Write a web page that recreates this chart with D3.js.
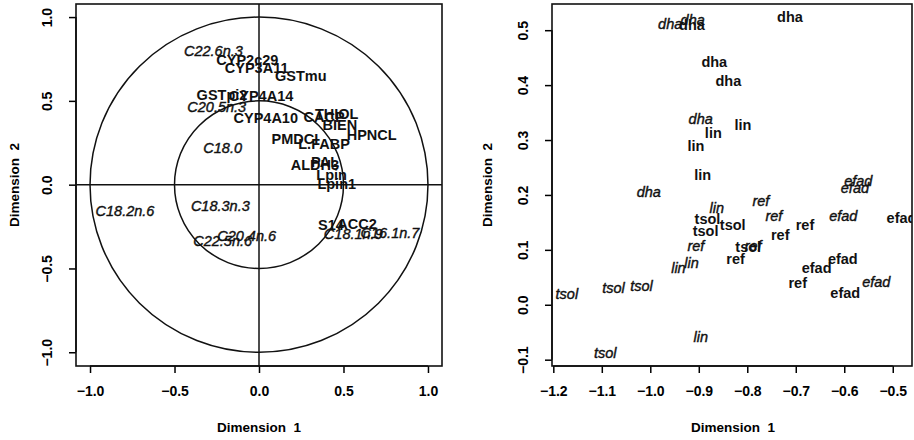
<html lang="en">
  <head>
    <meta charset="utf-8">
    <script src="https://d3js.org/d3.v7.min.js"></script>
    <style type="text/css">
body {
  margin: 0;
  background: white;
  font-family: "Liberation Sans", Arial, Helvetica, sans-serif;
}
    </style>
  </head>
  <body>
    <div id="chart"></div>
    <script type="text/javascript">
// variables plot (correlation circle)
const varNames = ["C22.6n.3", "CYP2c29", "CYP3A11", "GSTmu", "GSTpi2", "CYP4A14",
  "C20.5n.3", "CYP4A10", "CACP", "THIOL", "BIEN", "HPNCL", "PMDCI", "L.FABP",
  "ALDH3", "PAL", "Lpin", "Lpin1", "C18.0", "C18.2n.6", "C18.3n.3", "C20.4n.6",
  "C22.5n.6", "S14", "ACC2", "C18.1n.9", "C16.1n.7"];
const varX = [-0.27, -0.069, -0.014, 0.247, -0.219, 0.012, -0.25, 0.04, 0.385, 0.46,
  0.479, 0.667, 0.213, 0.385, 0.331, 0.391, 0.43, 0.46, -0.215, -0.793, -0.229,
  -0.073, -0.215, 0.426, 0.58, 0.558, 0.775];
const varY = [0.796, 0.746, 0.696, 0.647, 0.533, 0.527, 0.463, 0.4, 0.404, 0.424,
  0.354, 0.294, 0.275, 0.241, 0.115, 0.135, 0.056, 0.006, 0.221, -0.158, -0.128,
  -0.303, -0.337, -0.243, -0.237, -0.293, -0.287];
const varItalic = [1, 0, 0, 0, 0, 0, 1, 0, 0, 0, 0, 0, 0, 0, 0, 0, 0, 0, 1, 1, 1, 1,
  1, 0, 0, 1, 1];
const leftTicks = [-1, -0.5, 0, 0.5, 1];

// individuals plot
const indNames = ["dha", "dha", "dha", "dha", "dha", "dha", "lin", "lin", "lin", "lin",
  "dha", "lin", "tsol", "tsol", "tsol", "ref", "lin", "lin", "ref", "ref", "ref", "ref",
  "ref", "tsol", "ref", "ref", "tsol", "tsol", "tsol", "tsol", "lin", "efad", "efad",
  "efad", "efad", "efad", "efad", "efad", "efad", "dha"];
const indX = [-0.959, -0.9125, -0.712, -0.868, -0.839, -0.896, -0.87, -0.809, -0.906,
  -0.892, -1.003, -0.863, -0.882, -0.83, -0.886, -0.906, -0.915, -0.942, -0.772,
  -0.745, -0.681, -0.732, -0.788, -0.798, -0.824, -0.696, -1.172, -1.076, -1.018,
  -1.093, -0.896, -0.571, -0.578, -0.602, -0.534, -0.482, -0.603, -0.657, -0.598,
  -0.914];
const indY = [0.511, 0.518, 0.524, 0.443, 0.407, 0.339, 0.313, 0.327, 0.289, 0.237,
  0.206, 0.176, 0.156, 0.145, 0.134, 0.107, 0.076, 0.068, 0.189, 0.162, 0.146, 0.128,
  0.107, 0.1045, 0.083, 0.04, 0.019, 0.031, 0.034, -0.087, -0.059, 0.226, 0.213,
  0.162, 0.042, 0.158, 0.083, 0.068, 0.021, 0.509];
const indItalic = [1, 1, 0, 0, 0, 1, 0, 0, 0, 0, 1, 1, 0, 0, 0, 1, 1, 1, 1, 1, 0, 0, 1,
  0, 0, 0, 1, 1, 1, 1, 1, 1, 1, 1, 1, 0, 0, 0, 0, 0];
const rightXTicks = [-1.2, -1.1, -1.0, -0.9, -0.8, -0.7, -0.6, -0.5];
const rightYTicks = [-0.1, 0.0, 0.1, 0.2, 0.3, 0.4, 0.5];

const width = 914, height = 440;
const fmt = d3.format(".1f");

let svg = d3.select("#chart").append("svg")
  .attr("width", width)
  .attr("height", height);

function makePanel(id, box, xDomain, yDomain, xTicks, yTicks, titleX, titleY) {
  let x = d3.scaleLinear().domain(xDomain).range([box.left, box.right]);
  let y = d3.scaleLinear().domain(yDomain).range([box.bottom, box.top]);

  let g = svg.append("g");

  g.append("clipPath").attr("id", id)
    .append("rect")
      .attr("x", box.left).attr("y", box.top)
      .attr("width", box.right - box.left)
      .attr("height", box.bottom - box.top);

  // x axis
  g.append("g")
    .attr("transform", `translate(0,${box.bottom})`)
    .call(d3.axisBottom(x).tickValues(xTicks).tickSize(7).tickPadding(13)
      .tickFormat(fmt))
    .call(a => a.select(".domain")
      .attr("d", `M${x(xTicks[0])},0H${x(xTicks[xTicks.length - 1])}`))
    .call(a => a.selectAll("line,path").attr("stroke-width", 1.5))
    .call(a => a.selectAll("text")
      .attr("font-size", 14).attr("font-weight", "bold")
      .attr("font-family", "Liberation Sans, Arial, sans-serif"));

  // y axis, labels parallel to the axis
  g.append("g")
    .attr("transform", `translate(${box.left},0)`)
    .call(d3.axisLeft(y).tickValues(yTicks).tickSize(7).tickFormat(fmt))
    .call(a => a.select(".domain")
      .attr("d", `M0,${y(yTicks[0])}V${y(yTicks[yTicks.length - 1])}`))
    .call(a => a.selectAll("line,path").attr("stroke-width", 1.5))
    .call(a => a.selectAll("text")
      .attr("font-size", 14).attr("font-weight", "bold")
      .attr("font-family", "Liberation Sans, Arial, sans-serif")
      .attr("x", null).attr("dy", null)
      .attr("text-anchor", "middle")
      .attr("transform", "translate(-24,0) rotate(-90)"));

  g.append("rect")
    .attr("x", box.left).attr("y", box.top)
    .attr("width", box.right - box.left)
    .attr("height", box.bottom - box.top)
    .attr("fill", "none")
    .attr("stroke", "#111")
    .attr("stroke-width", 1.6);

  g.append("text")
    .attr("x", titleX).attr("y", 432)
    .attr("text-anchor", "middle")
    .attr("font-size", 13.5).attr("font-weight", "bold")
    .attr("xml:space", "preserve")
    .text("Dimension  1");

  g.append("text")
    .attr("transform", `translate(${titleY},${(box.top + box.bottom) / 2}) rotate(-90)`)
    .attr("text-anchor", "middle")
    .attr("font-size", 13.5).attr("font-weight", "bold")
    .attr("xml:space", "preserve")
    .text("Dimension  2");

  return {x, y, g};
}

function addLabels(p, id, names, xs, ys, italic, size) {
  p.g.append("g")
    .attr("clip-path", `url(#${id})`)
    .selectAll("text")
    .data(names.map((n, i) => ({n, x: xs[i], y: ys[i], it: italic[i]})))
    .join("text")
      .attr("x", d => p.x(d.x))
      .attr("y", d => p.y(d.y))
      .attr("dy", "0.35em")
      .attr("text-anchor", "middle")
      .attr("font-size", size)
      .attr("font-weight", d => d.it ? "normal" : "bold")
      .attr("font-style", d => d.it ? "italic" : "normal")
      .attr("fill", "#111")
      // the scanned italics look a little heavier than plain regular
      .attr("stroke", d => d.it ? "#111" : "none")
      .attr("stroke-width", 0.4)
      .text(d => d.n);
}

// left panel
let left = makePanel("clipL", {left: 76, right: 442, top: 4, bottom: 366},
  [-1.083, 1.083], [-1.082, 1.078], leftTicks, leftTicks, 259, 19);

[1, 0.5].forEach(r => {
  left.g.append("ellipse")
    .attr("cx", left.x(0)).attr("cy", left.y(0))
    .attr("rx", left.x(r) - left.x(0))
    .attr("ry", left.y(0) - left.y(r))
    .attr("fill", "none")
    .attr("stroke", "#111")
    .attr("stroke-width", 1.5);
});

left.g.append("line")
  .attr("x1", left.x(0)).attr("x2", left.x(0))
  .attr("y1", left.y.range()[0]).attr("y2", left.y.range()[1])
  .attr("stroke", "#111").attr("stroke-width", 1.5);
left.g.append("line")
  .attr("x1", left.x.range()[0]).attr("x2", left.x.range()[1])
  .attr("y1", left.y(0)).attr("y2", left.y(0))
  .attr("stroke", "#111").attr("stroke-width", 1.5);

addLabels(left, "clipL", varNames, varX, varY, varItalic, 14.5);

// right panel
let right = makePanel("clipR", {left: 552, right: 912, top: 4, bottom: 366},
  [-1.2027, -0.4603], [-0.1115, 0.5477], rightXTicks, rightYTicks, 733, 492);

addLabels(right, "clipR", indNames, indX, indY, indItalic, 14.5);
    </script>
  </body>
</html>
